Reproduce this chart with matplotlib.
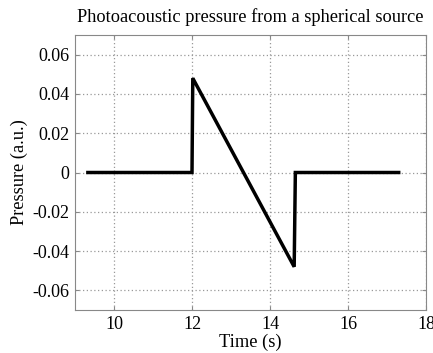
import numpy as np
import matplotlib
matplotlib.use('Agg')
import matplotlib.pyplot as plt

# pulse shape
time = [9.33, 12.0, 12.02, 14.62, 14.65, 17.3]
pressure = [0.0, 0.0, 0.048, -0.048, 0.0, 0.0]
xticks = [10, 12, 14, 16, 18]
yticks = [-0.06, -0.04, -0.02, 0, 0.02, 0.04, 0.06]
ytick_labels = ['-0.06', '-0.04', '-0.02', '0', '0.02', '0.04', '0.06']

plt.rcParams['font.family'] = ['Liberation Serif', 'DejaVu Serif']

fig = plt.figure(figsize=(4.33, 3.53), dpi=100)
ax = fig.add_axes([75/433, 1 - 310/353, 351/433, 275/353])
ax.plot(time, pressure, color='black', lw=2.5, solid_joinstyle='miter')
ax.set_xlim(9, 18)
ax.set_ylim(-0.07, 0.07)
ax.set_xticks(xticks)
ax.set_yticks(yticks)
ax.set_yticklabels(ytick_labels)
ax.tick_params(labelsize=13, length=3, direction='in', color='#888888', pad=4,
               top=True, right=True)
ax.grid(True, linestyle=(0, (1, 2)), color='#999999', lw=0.9)
for s in ax.spines.values():
    s.set_color('#888888')
ax.set_xlabel('Time (s)', fontsize=13.2, labelpad=1)
ax.set_ylabel('Pressure (a.u.)', fontsize=13.2, labelpad=3)
ax.set_title('Photoacoustic pressure from a spherical source', fontsize=13.2, pad=9)
fig.savefig('out.png', dpi=100)
